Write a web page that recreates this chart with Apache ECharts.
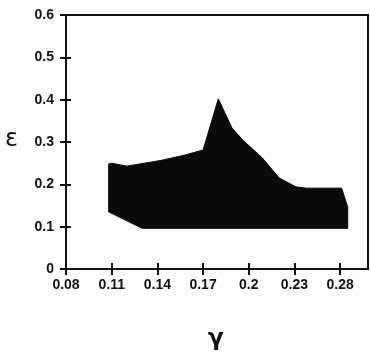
<!DOCTYPE html>
<html>
<head>
<meta charset="utf-8">
<script src="https://cdn.jsdelivr.net/npm/echarts@6/dist/echarts.min.js"></script>
<style>
html,body{margin:0;padding:0;background:#fff;}
#chart{width:370px;height:362px;}
</style>
</head>
<body>
<div id="chart"></div>
<script>
// tick positions and their printed labels (last label printed as "0.28" in the original)
const gammaTicks = [0.08, 0.11, 0.14, 0.17, 0.20, 0.23, 0.26];
const gammaTickLabels = ['0.08', '0.11', '0.14', '0.17', '0.2', '0.23', '0.28'];
const epsTickLabels = ['0', '0.1', '0.2', '0.3', '0.4', '0.5', '0.6'];

// polygon outline of the shaded region (gamma, epsilon)
const polyGamma = [0.108, 0.108, 0.130, 0.265, 0.265, 0.261, 0.238, 0.231, 0.220, 0.209, 0.196, 0.189, 0.180, 0.170, 0.158, 0.143, 0.120, 0.110];
const polyEps   = [0.248, 0.135, 0.096, 0.096, 0.146, 0.191, 0.191, 0.194, 0.215, 0.262, 0.305, 0.333, 0.402, 0.281, 0.269, 0.257, 0.243, 0.250];

const chart = echarts.init(document.getElementById('chart'), null, {renderer: 'canvas'});
const labelFont = {fontFamily: 'Liberation Sans, Arial, sans-serif', fontWeight: 'bold', fontSize: 14, color: '#111'};
const xFmt = function (v) {
  let best = 0;
  for (let i = 0; i < gammaTicks.length; i++) {
    if (Math.abs(gammaTicks[i] - v) < Math.abs(gammaTicks[best] - v)) best = i;
  }
  return gammaTickLabels[best];
};
const yFmt = function (v) {
  return epsTickLabels[Math.round(v * 10)];
};
const X_MIN = 0.08, X_MAX = 0.2783;

chart.setOption({
  animation: false,
  grid: {left: 66, top: 15, right: 2, bottom: 93, show: true, borderColor: '#111', borderWidth: 2, outerBoundsMode: 'none', containLabel: false},
  xAxis: [{
    type: 'value', min: X_MIN, max: X_MAX, position: 'bottom',
    axisLine: {show: true, lineStyle: {color: '#111', width: 2}},
    axisTick: {show: true, length: 6, customValues: gammaTicks, lineStyle: {color: '#111', width: 2}},
    axisLabel: Object.assign({customValues: gammaTicks, formatter: xFmt, margin: 9, showMinLabel: true, showMaxLabel: true}, labelFont),
    splitLine: {show: false}
  }, {
    type: 'value', min: X_MIN, max: X_MAX, position: 'top', offset: -254,
    axisLine: {show: false},
    axisTick: {show: true, length: 6, customValues: gammaTicks, lineStyle: {color: '#111', width: 2}},
    axisLabel: {show: false},
    splitLine: {show: false}
  }],
  yAxis: [{
    type: 'value', min: 0, max: 0.6, interval: 0.1, position: 'left',
    axisLine: {show: true, lineStyle: {color: '#111', width: 2}},
    axisTick: {show: true, length: 6, lineStyle: {color: '#111', width: 2}},
    axisLabel: Object.assign({formatter: yFmt, margin: 12}, labelFont),
    splitLine: {show: false}
  }, {
    type: 'value', min: 0, max: 0.6, interval: 0.1, position: 'right', offset: -302,
    axisLine: {show: false},
    axisTick: {show: true, length: 5, lineStyle: {color: '#111', width: 2}},
    axisLabel: {show: false},
    splitLine: {show: false}
  }],
  graphic: [
    {type: 'text', left: 5, top: 128, style: {text: 'ε', fontSize: 24, fontFamily: 'DejaVu Sans, sans-serif', fill: '#111'}},
    {type: 'text', left: 208, top: 328, style: {text: 'γ', fontSize: 23, fontWeight: 'bold', fontFamily: 'DejaVu Sans, sans-serif', fill: '#111'}}
  ],
  series: [{
    type: 'custom',
    xAxisIndex: 0, yAxisIndex: 0,
    coordinateSystem: 'cartesian2d',
    data: polyGamma.map((g, i) => [g, polyEps[i]]),
    renderItem: function (params, api) {
      if (params.dataIndex !== 0) return null;
      const pts = polyGamma.map((g, i) => api.coord([g, polyEps[i]]));
      return {type: 'polygon', shape: {points: pts}, style: {fill: '#0a0a0a', stroke: '#0a0a0a', lineWidth: 1}};
    }
  }]
});
</script>
</body>
</html>
